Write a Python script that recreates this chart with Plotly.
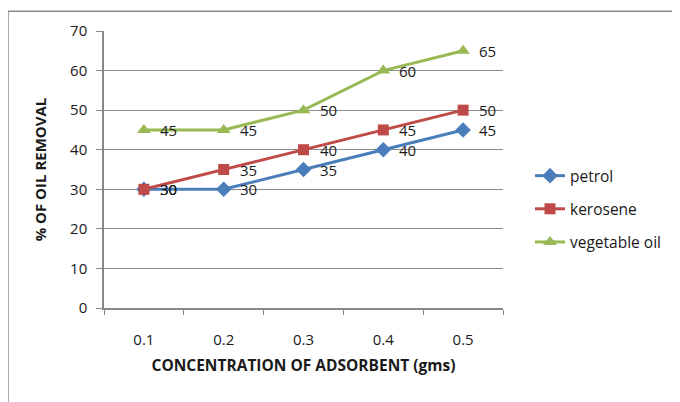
import plotly.graph_objects as go

categories = ["0.1", "0.2", "0.3", "0.4", "0.5"]
petrol = [30, 30, 35, 40, 45]
kerosene = [30, 35, 40, 45, 50]
vegetable_oil = [45, 45, 50, 60, 65]
y_ticks = [0, 10, 20, 30, 40, 50, 60, 70]

series = [
    ("petrol", petrol, "#4A7EBB", "diamond", 12),
    ("kerosene", kerosene, "#BE4B48", "square", 11),
    ("vegetable oil", vegetable_oil, "#98B954", "triangle-up", 12),
]

FONT = "Open Sans"
OFF = 8  # page body margin
W, H = 680 - OFF, 402 - OFF
L, T = 104 - OFF, 29 - OFF
R, B = W - (503 - OFF), H - (308 - OFF)
pw, ph = W - L - R, H - T - B

fig = go.Figure()
annotations = []
for name, vals, color, sym, size in series:
    fig.add_trace(go.Scatter(
        x=categories, y=vals, name=name, mode="lines+markers",
        line=dict(color=color, width=3),
        marker=dict(symbol=sym, size=size, color=color),
        legendgroup=name,
    ))
for name, vals, color, sym, size in series:
    for i, v in enumerate(vals):
        annotations.append(dict(
            x=i, y=v, xref="x", yref="y", text=str(v), showarrow=False,
            xanchor="left", yanchor="middle", xshift=14,
            font=dict(family=FONT, size=15, color="#1a1a1a"),
        ))

fx0, fx1 = (8 - 104) / pw, (900 - 104) / pw
fy0, fy1 = (308 - 600) / ph, (308 - 9) / ph
frame = dict(color="#8c8c8c", width=1.5)

fig.update_layout(
    width=W, height=H,
    margin=dict(l=L, r=R, t=T, b=B),
    paper_bgcolor="white", plot_bgcolor="white",
    font=dict(family=FONT, size=13, color="#1a1a1a"),
    annotations=annotations,
    legend=dict(
        x=(530 - 104) / pw, y=(308 - 158) / ph, xanchor="left", yanchor="top",
        font=dict(family=FONT, size=15.5, color="#1a1a1a"),
        tracegroupgap=10, bgcolor="rgba(0,0,0,0)",
    ),
    shapes=[
        dict(type="line", xref="paper", yref="paper", x0=fx0, x1=fx1,
             y0=fy1, y1=fy1, line=frame, layer="below"),
        dict(type="line", xref="paper", yref="paper", x0=fx0, x1=fx0,
             y0=fy0, y1=fy1, line=frame, layer="below"),
    ],
)
fig.update_xaxes(
    type="category", range=[-0.5, 4.5], tickson="boundaries",
    ticks="outside", ticklen=5, tickcolor="#888", showline=True,
    linecolor="#888", linewidth=1.5, showgrid=False,
    ticklabelstandoff=17, tickfont=dict(family=FONT, size=15, color="#1a1a1a"),
    title=dict(text="<b>CONCENTRATION OF ADSORBENT (gms)</b>", standoff=12,
               font=dict(family=FONT, size=15.5, color="#1a1a1a")),
)
fig.update_yaxes(
    range=[0, 70], tickvals=y_ticks, ticks="outside", ticklen=6,
    tickcolor="#888", showline=True, linecolor="#888", linewidth=1.5,
    showgrid=True, gridcolor="#8c8c8c", gridwidth=1.2, zeroline=False,
    ticklabelstandoff=6, tickfont=dict(family=FONT, size=15, color="#1a1a1a"),
    title=dict(text="<b>% OF OIL REMOVAL</b>", standoff=20,
               font=dict(family=FONT, size=15, color="#1a1a1a")),
)

fig.write_html("out.html")
